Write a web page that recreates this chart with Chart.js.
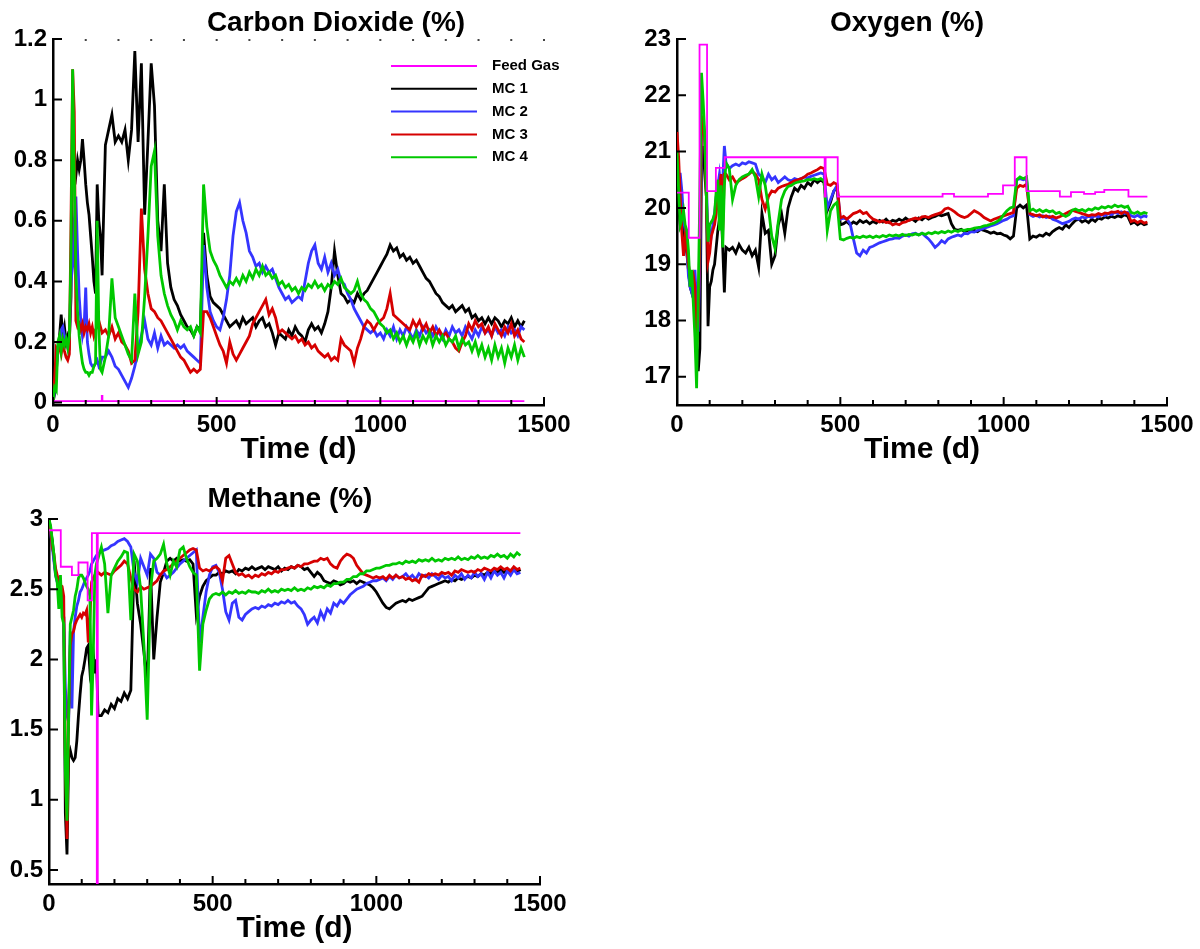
<!DOCTYPE html>
<html>
<head>
<meta charset="utf-8">
<title>Gas composition – Carbon Dioxide, Oxygen, Methane</title>
<script src="https://cdn.jsdelivr.net/npm/chart.js@4.4.1/dist/chart.umd.min.js"></script>
<style>
  html, body { margin: 0; padding: 0; background: #fff; }
  body { position: relative; width: 1200px; height: 949px; overflow: hidden; }
  .panel { position: absolute; }
  #co2Panel { left: 0; top: 0; }
  #o2Panel { left: 600px; top: 0; }
  #ch4Panel { left: 0; top: 470px; }
</style>
</head>
<body>
<div class="panel" id="co2Panel"><canvas id="co2Chart" width="600" height="470"></canvas></div>
<div class="panel" id="o2Panel"><canvas id="o2Chart" width="600" height="470"></canvas></div>
<div class="panel" id="ch4Panel"><canvas id="ch4Chart" width="600" height="479"></canvas></div>
<script>
// Three gas panels. Every MC series shares one
// time grid: 0-150 d every 5 d, then 160-1440 d every 10 d (rows below follow
// that split: 0-150 / 160-500 / 510-1000 / 1010-1440).

const tDays = [
  0, 5, 10, 15, 20, 25, 30, 35, 40, 45, 50, 55, 60, 65, 70, 75, 80, 85, 90, 95, 100, 105, 110, 115, 120, 125, 130, 135, 140, 145, 150,
  160, 170, 180, 190, 200, 210, 220, 230, 240, 250, 260, 270, 280, 290, 300, 310, 320, 330, 340, 350, 360, 370, 380, 390, 400, 410, 420, 430, 440, 450, 460, 470, 480, 490, 500,
  510, 520, 530, 540, 550, 560, 570, 580, 590, 600, 610, 620, 630, 640, 650, 660, 670, 680, 690, 700, 710, 720, 730, 740, 750, 760, 770, 780, 790, 800,
  810, 820, 830, 840, 850, 860, 870, 880, 890, 900, 910, 920, 930, 940, 950, 960, 970, 980, 990, 1000,
  1010, 1020, 1030, 1040, 1050, 1060, 1070, 1080, 1090, 1100, 1110, 1120, 1130, 1140, 1150, 1160, 1170, 1180, 1190, 1200, 1210, 1220,
  1230, 1240, 1250, 1260, 1270, 1280, 1290, 1300, 1310, 1320, 1330, 1340, 1350, 1360, 1370, 1380, 1390, 1400, 1410, 1420, 1430, 1440,
];

const seriesLabels = ["Feed Gas", "MC 1", "MC 2", "MC 3", "MC 4"];

// Axis ticks
const xMajorTicks = [0, 500, 1000, 1500];
const xMinorTicks = [100, 200, 300, 400, 600, 700, 800, 900, 1100, 1200, 1300, 1400];
const co2YTicks = [0, 0.2, 0.4, 0.6, 0.8, 1, 1.2];
const o2YTicks = [17, 18, 19, 20, 21, 22, 23];
const ch4YTicks = [0.5, 1, 1.5, 2, 2.5, 3];

// ── Carbon dioxide (%) ──────────────────────────────────────────────────────
const co2FeedTimes = [0, 149, 151, 1440];
const co2Feed = [0.005, 0.022, 0.005, 0.005];

const co2MC1 = [
  0, 0.03, 0.1, 0.18, 0.22, 0.29, 0.22, 0.25, 0.2, 0.22, 0.2, 0.35, 0.97, 0.78, 0.75, 0.8, 0.77, 0.8, 0.87, 0.8, 0.72, 0.66, 0.62, 0.55, 0.48, 0.4, 0.36, 0.72, 0.6, 0.55, 0.42,
  0.85, 0.9, 0.95, 0.86, 0.88, 0.86, 0.9, 0.8, 0.9, 1.16, 0.86, 1.12, 0.62, 0.86, 1.12, 0.98, 0.6, 0.5, 0.72, 0.46, 0.38, 0.34, 0.32, 0.29, 0.27, 0.25, 0.24, 0.22, 0.25, 0.24, 0.56, 0.42, 0.35, 0.33, 0.32,
  0.31, 0.29, 0.27, 0.25, 0.26, 0.27, 0.25, 0.28, 0.26, 0.27, 0.28, 0.25, 0.27, 0.28, 0.25, 0.26, 0.23, 0.19, 0.23, 0.22, 0.21, 0.24, 0.22, 0.25, 0.23,
  0.22, 0.2, 0.24, 0.26, 0.24, 0.25, 0.23, 0.26, 0.3, 0.38, 0.5, 0.42, 0.36, 0.35, 0.33, 0.34, 0.33, 0.36, 0.34, 0.36, 0.37, 0.39, 0.41, 0.43, 0.45,
  0.47, 0.49, 0.52, 0.5, 0.51, 0.48, 0.49, 0.47, 0.48, 0.46, 0.47, 0.45, 0.43, 0.41, 0.4, 0.38, 0.36, 0.35, 0.33, 0.32, 0.31, 0.32,
  0.3, 0.31, 0.32, 0.3, 0.31, 0.28, 0.29, 0.27, 0.28, 0.26, 0.28, 0.26, 0.28, 0.27, 0.25, 0.27, 0.26, 0.28, 0.25, 0.27, 0.25, 0.27,
];
const co2MC2 = [
  0, 0.04, 0.12, 0.18, 0.2, 0.24, 0.25, 0.22, 0.2, 0.18, 0.22, 0.4, 0.45, 0.6, 0.68, 0.5, 0.35, 0.27, 0.22, 0.25, 0.38, 0.2, 0.16, 0.13, 0.12, 0.12, 0.13, 0.14, 0.12, 0.13, 0.15,
  0.15, 0.17, 0.15, 0.12, 0.11, 0.09, 0.07, 0.05, 0.08, 0.12, 0.17, 0.22, 0.27, 0.21, 0.19, 0.23, 0.18, 0.22, 0.19, 0.2, 0.19, 0.18, 0.19, 0.18, 0.19, 0.17, 0.16, 0.15, 0.14, 0.13, 0.52, 0.38, 0.3, 0.27, 0.25,
  0.24, 0.28, 0.34, 0.42, 0.55, 0.63, 0.66, 0.6, 0.56, 0.5, 0.48, 0.45, 0.46, 0.43, 0.45, 0.43, 0.44, 0.41, 0.38, 0.36, 0.34, 0.35, 0.33, 0.34, 0.35,
  0.34, 0.4, 0.46, 0.5, 0.52, 0.46, 0.44, 0.48, 0.43, 0.46, 0.42, 0.44, 0.4, 0.39, 0.36, 0.34, 0.31, 0.29, 0.27, 0.25, 0.24, 0.23, 0.24, 0.22, 0.23,
  0.21, 0.24, 0.22, 0.25, 0.21, 0.24, 0.22, 0.25, 0.23, 0.21, 0.24, 0.22, 0.25, 0.23, 0.24, 0.22, 0.25, 0.23, 0.21, 0.24, 0.22, 0.25,
  0.23, 0.24, 0.22, 0.25, 0.23, 0.21, 0.24, 0.22, 0.25, 0.23, 0.24, 0.22, 0.25, 0.23, 0.24, 0.22, 0.25, 0.23, 0.24, 0.22, 0.25, 0.24,
];
const co2MC3 = [
  0, 0.08, 0.18, 0.17, 0.18, 0.16, 0.2, 0.17, 0.15, 0.14, 0.16, 0.6, 1.1, 0.96, 0.27, 0.25, 0.26, 0.24, 0.26, 0.23, 0.25, 0.24, 0.26, 0.23, 0.25, 0.22, 0.24, 0.25, 0.27, 0.25, 0.23,
  0.24, 0.22, 0.25, 0.21, 0.23, 0.2, 0.19, 0.17, 0.13, 0.14, 0.3, 0.64, 0.44, 0.36, 0.31, 0.3, 0.28, 0.27, 0.25, 0.23, 0.21, 0.19, 0.17, 0.15, 0.14, 0.12, 0.1, 0.11, 0.1, 0.11, 0.3, 0.3, 0.28, 0.25, 0.22,
  0.19, 0.17, 0.13, 0.2, 0.16, 0.14, 0.16, 0.18, 0.2, 0.22, 0.26, 0.28, 0.3, 0.32, 0.34, 0.29, 0.31, 0.28, 0.23, 0.24, 0.23, 0.22, 0.21, 0.22, 0.2,
  0.21, 0.19, 0.2, 0.18, 0.19, 0.17, 0.16, 0.15, 0.16, 0.14, 0.15, 0.14, 0.21, 0.19, 0.18, 0.17, 0.13, 0.18, 0.21, 0.25, 0.27, 0.26, 0.24, 0.26, 0.27,
  0.28, 0.31, 0.36, 0.29, 0.28, 0.27, 0.26, 0.25, 0.24, 0.27, 0.25, 0.27, 0.24, 0.26, 0.23, 0.25, 0.22, 0.24, 0.22, 0.23, 0.21, 0.2,
  0.18, 0.17, 0.2, 0.22, 0.26, 0.24, 0.27, 0.25, 0.26, 0.23, 0.25, 0.22, 0.26, 0.24, 0.22, 0.25, 0.23, 0.26, 0.22, 0.24, 0.21, 0.2,
];
const co2MC4 = [
  0, 0.05, 0.04, 0.2, 0.22, 0.17, 0.21, 0.19, 0.21, 0.18, 0.22, 0.5, 1.1, 0.75, 0.42, 0.3, 0.22, 0.17, 0.13, 0.11, 0.1, 0.1, 0.09, 0.1, 0.1, 0.12, 0.13, 0.6, 0.25, 0.11, 0.1,
  0.15, 0.22, 0.41, 0.28, 0.25, 0.22, 0.19, 0.16, 0.14, 0.36, 0.16, 0.2, 0.35, 0.55, 0.78, 0.83, 0.55, 0.42, 0.36, 0.32, 0.29, 0.27, 0.24, 0.27, 0.25, 0.24, 0.25, 0.22, 0.25, 0.23, 0.72, 0.58, 0.5, 0.47, 0.45,
  0.42, 0.4, 0.38, 0.4, 0.39, 0.41, 0.39, 0.42, 0.4, 0.43, 0.41, 0.44, 0.42, 0.45, 0.42, 0.43, 0.41, 0.42, 0.39, 0.4, 0.38, 0.39, 0.37, 0.38, 0.36,
  0.38, 0.37, 0.39, 0.38, 0.4, 0.38, 0.39, 0.37, 0.39, 0.38, 0.4, 0.39, 0.41, 0.38, 0.37, 0.36, 0.37, 0.4, 0.36, 0.34, 0.33, 0.31, 0.3, 0.28, 0.26,
  0.25, 0.23, 0.24, 0.21, 0.23, 0.2, 0.22, 0.19, 0.22, 0.2, 0.23, 0.19, 0.22, 0.2, 0.23, 0.19, 0.22, 0.2, 0.22, 0.19, 0.21, 0.2,
  0.22, 0.18, 0.21, 0.19, 0.2, 0.17, 0.2, 0.16, 0.19, 0.15, 0.18, 0.14, 0.19, 0.15, 0.18, 0.13, 0.18, 0.15, 0.19, 0.14, 0.18, 0.15,
];

// ── Oxygen (%) ──────────────────────────────────────────────────────────────
const o2FeedTimes = [0, 36, 69, 92, 119, 146, 452, 455, 492, 813, 848, 952, 998, 1034, 1070, 1172, 1206, 1246, 1280, 1308, 1382, 1440];
const o2Feed = [20.27, 19.47, 22.9, 20.3, 20.71, 20.9, 20.2, 20.9, 20.2, 20.25, 20.2, 20.25, 20.4, 20.9, 20.3, 20.2, 20.28, 20.25, 20.28, 20.32, 20.2, 20.2];

const o2MC1 = [
  20.4, 20.0, 19.7, 19.8, 19.6, 19.4, 19.2, 18.9, 18.6, 18.5, 18.8, 18.3, 17.6, 17.1, 17.5, 20.8, 21.1, 20.6, 20.2, 17.9, 18.6, 18.7, 18.9, 19.0, 19.3, 19.6, 19.8, 20.0, 19.3, 18.5, 19.3,
  19.25, 19.3, 19.2, 19.35, 19.25, 19.2, 19.3, 19.15, 19.25, 18.95, 19.9, 19.55, 19.6, 19.0, 19.15, 19.7, 19.9, 19.55, 20.0, 20.2, 20.35, 20.3, 20.4, 20.35, 20.45, 20.4, 20.5, 20.45, 20.5, 20.45, 19.95, 20.1, 20.3, 20.35, 19.7,
  19.72, 19.76, 19.7, 19.75, 19.72, 19.78, 19.74, 19.77, 19.72, 19.76, 19.73, 19.78, 19.75, 19.8, 19.74, 19.78, 19.76, 19.8, 19.77, 19.82, 19.78, 19.8, 19.76, 19.82, 19.79,
  19.84, 19.8, 19.83, 19.85, 19.88, 19.86, 19.88, 19.9, 19.72, 19.62, 19.6, 19.62, 19.58, 19.6, 19.62, 19.6, 19.58, 19.62, 19.6, 19.58, 19.55, 19.57, 19.54, 19.55, 19.52,
  19.5, 19.45, 19.5, 20.0, 20.05, 20.0, 20.05, 19.45, 19.5, 19.48, 19.52, 19.5, 19.55, 19.52, 19.58, 19.62, 19.65, 19.62, 19.7, 19.65, 19.72, 19.78,
  19.8, 19.75, 19.78, 19.74, 19.8, 19.76, 19.82, 19.8, 19.84, 19.82, 19.85, 19.83, 19.86, 19.84, 19.88, 19.85, 19.72, 19.75, 19.7, 19.74, 19.7, 19.72,
];
const o2MC2 = [
  20.8, 20.6, 20.6, 20.3, 19.8, 19.6, 19.3, 18.8, 18.6, 18.5, 18.7, 18.9, 18.3, 17.8, 19.0, 21.3, 21.5, 21.2, 20.5, 19.4, 19.6, 19.5, 19.7, 19.9, 20.2, 20.4, 20.6, 20.3, 20.5, 21.1, 20.8,
  20.7, 20.75, 20.78, 20.75, 20.8, 20.78, 20.82, 20.8, 20.78, 20.6, 20.55, 20.45, 20.6, 20.5, 20.55, 20.45, 20.5, 20.55, 20.5, 20.48, 20.52, 20.5, 20.52, 20.55, 20.53, 20.56, 20.58, 20.6, 20.62, 20.6, 20.0, 20.15, 20.3, 20.4, 19.8,
  19.82, 19.8, 19.72, 19.45, 19.2, 19.15, 19.25, 19.2, 19.3, 19.32, 19.35, 19.38, 19.4, 19.42, 19.44, 19.45, 19.47, 19.46, 19.5, 19.52, 19.5, 19.54, 19.55, 19.52, 19.55,
  19.5, 19.45, 19.38, 19.3, 19.35, 19.42, 19.38, 19.45, 19.48, 19.5, 19.52, 19.5, 19.55, 19.54, 19.58, 19.57, 19.6, 19.62, 19.64, 19.66, 19.68, 19.7, 19.72, 19.75, 19.78,
  19.8, 19.84, 19.86, 20.5, 20.52, 20.5, 20.52, 19.88, 19.85, 19.87, 19.84, 19.86, 19.83, 19.85, 19.8, 19.78, 19.75, 19.72, 19.74, 19.76, 19.8, 19.82,
  19.8, 19.84, 19.82, 19.85, 19.83, 19.86, 19.84, 19.88, 19.86, 19.9, 19.88, 19.92, 19.9, 19.93, 19.9, 19.92, 19.86, 19.84, 19.87, 19.83, 19.86, 19.84,
];
const o2MC3 = [
  21.35, 20.9, 20.2, 19.55, 19.15, 19.5, 19.3, 19.0, 18.8, 18.7, 18.8, 18.6, 17.5, 18.0, 19.5, 21.5, 21.6, 21.2, 20.2, 19.05, 19.2, 19.5, 19.6, 19.7, 19.9, 20.2, 20.4, 20.6, 19.6, 20.6, 20.6,
  20.5, 20.55, 20.45, 20.48, 20.52, 20.55, 20.6, 20.65, 20.6, 20.5, 20.15, 19.98, 20.2, 20.3, 20.28, 20.35, 20.38, 20.4, 20.42, 20.45, 20.48, 20.5, 20.52, 20.55, 20.6, 20.62, 20.65, 20.68, 20.72, 20.7, 20.42, 20.4, 20.45, 20.42, 19.82,
  19.85, 19.8, 19.85, 19.9, 19.92, 19.95, 19.9, 19.92, 19.85, 19.8, 19.78, 19.75, 19.77, 19.74, 19.75, 19.7, 19.72, 19.7, 19.74, 19.75, 19.78, 19.8, 19.82, 19.8, 19.84,
  19.85, 19.83, 19.86, 19.88, 19.9, 19.92, 19.98, 20.0, 19.97, 19.93, 19.88, 19.85, 19.83, 19.85, 19.9, 19.95, 19.92, 19.88, 19.83, 19.8, 19.77, 19.8, 19.82, 19.84, 19.86,
  19.88, 19.9, 19.92, 20.35, 20.4, 20.38, 20.42, 19.9, 19.88, 19.86, 19.88, 19.84, 19.86, 19.83, 19.85, 19.82, 19.84, 19.87, 19.9, 19.93, 19.96, 19.94,
  19.92, 19.9, 19.88, 19.86, 19.88, 19.87, 19.9, 19.88, 19.91, 19.9, 19.93, 19.92, 19.94, 19.9, 19.93, 19.9, 19.76, 19.78, 19.74, 19.77, 19.73, 19.75,
];
const o2MC4 = [
  21.0, 20.3, 19.7, 19.8, 19.95, 19.7, 19.6, 19.25, 18.6, 18.9, 18.3, 17.7, 16.8, 18.4, 20.3, 22.4, 21.9, 21.3, 20.2, 19.4, 19.7, 19.75, 19.8, 19.9, 20.3, 20.5, 19.6, 20.4, 19.3, 20.4, 20.8,
  20.7, 20.15, 20.4, 20.5, 20.55, 20.58, 20.6, 20.68, 20.55, 20.2, 20.6, 20.4, 20.0, 19.5, 19.28, 19.75, 20.15, 20.3, 20.38, 20.4, 20.44, 20.46, 20.47, 20.48, 20.5, 20.5, 20.52, 20.5, 20.52, 20.48, 19.6, 19.95, 20.05, 20.1, 19.45,
  19.43, 19.46, 19.48, 19.46, 19.49, 19.47, 19.5, 19.48, 19.5, 19.47, 19.5, 19.48, 19.51, 19.49, 19.52, 19.5, 19.52, 19.5, 19.53, 19.51, 19.53, 19.52, 19.54, 19.52, 19.55,
  19.53, 19.56, 19.54, 19.57, 19.55, 19.58, 19.56, 19.59, 19.57, 19.6, 19.58, 19.61, 19.6, 19.62, 19.62, 19.64, 19.65, 19.66, 19.68, 19.69, 19.71, 19.73, 19.76, 19.8, 19.88,
  19.95, 20.0, 20.02, 20.5, 20.55, 20.52, 20.55, 19.95, 19.98, 19.94, 19.97, 19.93, 19.96, 19.93, 19.95, 19.9, 19.92, 19.88, 19.85, 19.88, 19.96, 19.98,
  19.95, 19.97, 19.94, 19.98, 19.96, 20.0, 19.98, 20.02, 20.0, 20.03, 20.01, 20.05, 20.02, 20.04, 20.01, 20.03, 19.92, 19.9, 19.93, 19.89, 19.92, 19.9,
];

// ── Methane (%) ─────────────────────────────────────────────────────────────
const ch4FeedTimes = [0, 36, 70, 90, 118, 131, 146, 149, 1440];
const ch4Feed = [2.92, 2.66, 2.6, 2.69, 2.42, 2.9, 0.3, 2.9, 2.9];

const ch4MC1 = [
  3.0, 2.92, 2.85, 2.72, 2.62, 2.58, 2.55, 2.5, 2.45, 2.3, 0.9, 0.61, 1.3, 1.35, 1.3, 1.28, 1.3, 1.42, 1.6, 1.75, 1.88, 1.93, 2.0, 2.08, 2.1, 1.92, 2.0, 2.05, 1.9, 2.0, 1.6,
  1.6, 1.64, 1.62, 1.68, 1.65, 1.72, 1.7, 1.76, 1.72, 1.78, 2.7, 2.4, 2.25, 2.05, 1.82, 2.65, 2.0, 2.3, 2.55, 2.62, 2.7, 2.72, 2.7, 2.72, 2.7, 2.71, 2.7, 2.71, 2.68, 2.32, 2.45, 2.52, 2.56, 2.58, 2.6,
  2.6, 2.62, 2.61, 2.63, 2.62, 2.63, 2.61, 2.64, 2.63, 2.65, 2.64, 2.66, 2.64, 2.65, 2.66, 2.64, 2.66, 2.65, 2.64, 2.66, 2.63, 2.65, 2.64, 2.66, 2.65,
  2.67, 2.66, 2.64, 2.65, 2.62, 2.59, 2.62, 2.6, 2.56, 2.55, 2.54, 2.56, 2.55, 2.53, 2.54, 2.56, 2.55, 2.56, 2.54, 2.56, 2.55, 2.54, 2.53, 2.51, 2.48,
  2.44, 2.4, 2.37, 2.36, 2.38, 2.4, 2.41, 2.42, 2.41, 2.43, 2.42, 2.43, 2.44, 2.45, 2.48, 2.51, 2.52, 2.53, 2.54, 2.55, 2.56, 2.55,
  2.57, 2.56, 2.58, 2.57, 2.58, 2.59, 2.58, 2.6, 2.59, 2.61, 2.6, 2.62, 2.61, 2.63, 2.62, 2.64, 2.62, 2.64, 2.63, 2.65, 2.62, 2.64,
];
const ch4MC2 = [
  3.0, 2.9, 2.8, 2.7, 2.6, 2.55, 2.52, 2.5, 2.4, 2.3, 1.8, 1.6, 1.55, 2.2, 1.65, 2.2, 2.3, 2.38, 2.42, 2.48, 2.5, 2.53, 2.56, 2.58, 2.6, 2.63, 2.68, 2.7, 2.72, 2.74, 2.75,
  2.77, 2.78, 2.79, 2.81, 2.82, 2.84, 2.85, 2.86, 2.84, 2.8, 2.62, 2.55, 2.72, 2.66, 2.6, 2.75, 2.72, 2.62, 2.6, 2.62, 2.58, 2.6, 2.62, 2.65, 2.68, 2.7, 2.72, 2.74, 2.76, 2.78, 2.12, 2.3, 2.48, 2.6, 2.66,
  2.67, 2.62, 2.5, 2.34, 2.28, 2.4, 2.42, 2.3, 2.28, 2.32, 2.34, 2.36, 2.37, 2.36, 2.38, 2.37, 2.39, 2.38, 2.4, 2.39, 2.41, 2.4, 2.42, 2.4, 2.41,
  2.38, 2.36, 2.32, 2.25, 2.28, 2.3, 2.26, 2.34, 2.29, 2.36, 2.33, 2.4, 2.38, 2.42, 2.4, 2.43, 2.46, 2.48, 2.5, 2.51, 2.52, 2.54, 2.55, 2.56, 2.56,
  2.57, 2.58, 2.56, 2.59, 2.57, 2.6, 2.58, 2.59, 2.61, 2.58, 2.6, 2.57, 2.61, 2.59, 2.6, 2.58, 2.61, 2.59, 2.57, 2.6, 2.58, 2.59,
  2.56, 2.6, 2.58, 2.61, 2.57, 2.6, 2.58, 2.62, 2.59, 2.61, 2.57, 2.62, 2.58, 2.63, 2.6, 2.62, 2.58, 2.63, 2.6, 2.64, 2.61, 2.62,
];
const ch4MC3 = [
  3.0, 2.92, 2.8, 2.75, 2.65, 2.6, 2.55, 2.53, 2.52, 2.45, 1.3, 0.72, 1.6, 2.1, 2.18, 2.2, 2.25, 2.28, 2.3, 2.32, 2.3, 2.33, 2.32, 2.35, 2.12, 2.3, 2.55, 2.58, 2.6, 2.6, 2.62,
  2.6, 2.62, 2.61, 2.6, 2.63, 2.65, 2.67, 2.7, 2.68, 2.58, 2.5, 2.48, 2.52, 2.5, 2.51, 2.52, 2.54, 2.56, 2.6, 2.63, 2.64, 2.66, 2.68, 2.7, 2.72, 2.74, 2.76, 2.78, 2.79, 2.78, 2.65, 2.63, 2.64, 2.63, 2.65,
  2.66, 2.64, 2.56, 2.72, 2.74, 2.68, 2.62, 2.6, 2.61, 2.59, 2.6, 2.58, 2.6, 2.59, 2.61, 2.6, 2.62, 2.61, 2.63, 2.62, 2.64, 2.64, 2.65, 2.66, 2.65,
  2.67, 2.66, 2.68, 2.68, 2.69, 2.7, 2.7, 2.72, 2.71, 2.72, 2.68, 2.66, 2.65, 2.7, 2.73, 2.75, 2.74, 2.72, 2.67, 2.64, 2.61, 2.6, 2.59, 2.58, 2.59,
  2.58, 2.59, 2.57, 2.6, 2.58, 2.6, 2.58, 2.59, 2.57, 2.58, 2.56, 2.57, 2.55, 2.6, 2.59, 2.61, 2.6, 2.61, 2.6, 2.62, 2.61, 2.62,
  2.6, 2.63, 2.62, 2.64, 2.63, 2.62, 2.63, 2.62, 2.64, 2.63, 2.65, 2.64, 2.63, 2.65, 2.64, 2.66, 2.64, 2.65, 2.63, 2.66, 2.64, 2.65,
];
const ch4MC4 = [
  3.0, 2.95, 2.85, 2.75, 2.6, 2.55, 2.36, 2.6, 2.3, 2.25, 1.2, 0.85, 1.6, 2.25, 2.3, 2.35, 2.45, 2.5, 2.58, 2.6, 2.6, 2.58, 2.55, 2.52, 2.5, 2.45, 1.6, 2.0, 2.6, 2.68, 2.72,
  2.8, 2.68, 2.33, 2.6, 2.65, 2.7, 2.73, 2.77, 2.76, 2.28, 2.75, 2.7, 2.5, 2.1, 1.57, 2.5, 2.7, 2.72, 2.75, 2.82, 2.68, 2.6, 2.7, 2.66, 2.78, 2.8, 2.72, 2.66, 2.62, 2.6, 1.92, 2.25, 2.35, 2.43, 2.46,
  2.47, 2.46, 2.48, 2.46, 2.48, 2.47, 2.49, 2.47, 2.48, 2.47, 2.49, 2.48, 2.48, 2.47, 2.49, 2.48, 2.5, 2.48, 2.49, 2.48, 2.5, 2.49, 2.5, 2.49, 2.51,
  2.49, 2.5, 2.49, 2.51, 2.5, 2.52, 2.51, 2.52, 2.51, 2.53, 2.52, 2.54, 2.54, 2.55, 2.55, 2.57, 2.57, 2.59, 2.59, 2.61, 2.61, 2.63, 2.63, 2.64, 2.65,
  2.65, 2.66, 2.67, 2.67, 2.68, 2.68, 2.69, 2.68, 2.7, 2.69, 2.7, 2.69, 2.71, 2.7, 2.71, 2.7, 2.72, 2.7, 2.71, 2.7, 2.72, 2.71,
  2.72, 2.71, 2.73, 2.71, 2.72, 2.71, 2.73, 2.72, 2.74, 2.72, 2.73, 2.72, 2.74, 2.73, 2.75, 2.73, 2.74, 2.72, 2.75, 2.73, 2.76, 2.74,
];

// ── Styling ────────────────────────────────────────────────────────────────
const FONT = '"Liberation Sans", Arial, Helvetica, sans-serif';
const COLORS = {
  feed: "#ff00ff",
  mc1: "#000000",
  mc2: "#3535ff",
  mc3: "#d60000",
  mc4: "#00c800",
};

Chart.defaults.font.family = FONT;
Chart.defaults.color = "#000";

function series(label, times, values, color, width, order, stepped) {
  if (times.length !== values.length) {
    console.warn(`series ${label}: ${times.length} times vs ${values.length} values`);
  }
  return {
    label,
    data: times.map((t, i) => ({ x: t, y: values[i] })),
    borderColor: color,
    backgroundColor: color,
    borderWidth: width,
    order,
    stepped: stepped ? "before" : false,
    pointRadius: 0,
    fill: false,
  };
}

// Feed gas sits on top, then MC 4 over MC 3 over MC 2 over MC 1 (lower order = drawn last).
function gasDatasets(feedTimes, feed, mc1, mc2, mc3, mc4) {
  return [
    series(seriesLabels[0], feedTimes, feed, COLORS.feed, 1.8, 0, true),
    series(seriesLabels[1], tDays, mc1, COLORS.mc1, 2.8, 4),
    series(seriesLabels[2], tDays, mc2, COLORS.mc2, 2.8, 3),
    series(seriesLabels[3], tDays, mc3, COLORS.mc3, 2.8, 2),
    series(seriesLabels[4], tDays, mc4, COLORS.mc4, 2.8, 1),
  ];
}

// Panel heading drawn at a fixed spot: the original figure does not centre it on the plot.
const panelTitle = {
  id: "panelTitle",
  afterDraw(chart, _args, opts) {
    if (!opts.text) return;
    const { ctx } = chart;
    ctx.save();
    ctx.font = `bold ${opts.size}px ${FONT}`;
    ctx.fillStyle = "#000";
    ctx.textAlign = "center";
    ctx.textBaseline = "alphabetic";
    ctx.fillText(opts.text, opts.x, opts.y);
    ctx.restore();
  },
};

// Line-sample legend, in dataset order, tucked inside the CO2 plot.
const lineLegend = {
  id: "lineLegend",
  afterDraw(chart, _args, opts) {
    if (!opts.show) return;
    const { ctx } = chart;
    ctx.save();
    ctx.font = `bold ${opts.size}px ${FONT}`;
    ctx.textAlign = "left";
    ctx.textBaseline = "middle";
    chart.data.datasets.forEach((ds, i) => {
      const y = opts.top + i * opts.rowGap;
      ctx.strokeStyle = ds.borderColor;
      ctx.lineWidth = Math.min(ds.borderWidth, 2);
      ctx.beginPath();
      ctx.moveTo(opts.lineStart, y);
      ctx.lineTo(opts.lineEnd, y);
      ctx.stroke();
      ctx.fillStyle = "#000";
      ctx.fillText(ds.label, opts.textStart, y);
    });
    ctx.restore();
  },
};

// Tick marks point into the plot (Tecplot style); Chart.js only draws them outward.
const axisTicks = {
  id: "axisTicks",
  afterDatasetsDraw(chart, _args, opts) {
    const { ctx, chartArea, scales } = chart;
    const { x, y } = scales;
    ctx.save();
    ctx.strokeStyle = "#000";
    ctx.lineWidth = 2;
    ctx.beginPath();
    for (const t of xMajorTicks) {
      const px = x.getPixelForValue(t);
      ctx.moveTo(px, chartArea.bottom);
      ctx.lineTo(px, chartArea.bottom - 8);
    }
    for (const t of xMinorTicks) {
      const px = x.getPixelForValue(t);
      ctx.moveTo(px, chartArea.bottom);
      ctx.lineTo(px, chartArea.bottom - 5);
    }
    for (const tick of y.ticks) {
      const py = y.getPixelForValue(tick.value);
      ctx.moveTo(chartArea.left, py);
      ctx.lineTo(chartArea.left + 9, py);
    }
    ctx.stroke();
    if (opts.top) {
      ctx.fillStyle = "#444";
      for (const t of xMinorTicks.concat(xMajorTicks.slice(1))) {
        const px = x.getPixelForValue(t);
        ctx.fillRect(px - 1, chartArea.top, 2, 2);
      }
    }
    ctx.restore();
  },
};

function buildPanel(canvasId, spec) {
  const canvas = document.getElementById(canvasId);
  if (!canvas) return null;
  return new Chart(canvas.getContext("2d"), {
    type: "line",
    data: { datasets: spec.datasets },
    options: {
      responsive: false,
      animation: false,
      events: [],
      layout: { padding: spec.padding },
      plugins: {
        legend: { display: false },
        tooltip: { enabled: false },
        panelTitle: spec.title,
        lineLegend: spec.legend || { show: false },
        axisTicks: { top: !!spec.topTicks },
      },
      scales: {
        x: {
          type: "linear",
          min: 0,
          max: 1500,
          afterBuildTicks: (scale) => { scale.ticks = xMajorTicks.map((value) => ({ value })); },
          afterFit: (scale) => { scale.height = spec.xAxisHeight; },
          grid: { display: false, drawTicks: false },
          border: { display: true, color: "#000", width: 2.5 },
          ticks: {
            autoSkip: false,
            maxRotation: 0,
            padding: 6,
            color: "#000",
            font: { size: 24, weight: "bold" },
            callback: (v) => String(v),
          },
          title: {
            display: true,
            text: "Time (d)",
            color: "#000",
            font: { size: 30, weight: "bold" },
            padding: { top: 0, bottom: 2 },
          },
        },
        y: {
          type: "linear",
          min: spec.yMin,
          max: spec.yMax,
          afterBuildTicks: (scale) => { scale.ticks = spec.yTicks.map((value) => ({ value })); },
          afterFit: (scale) => { scale.width = spec.yAxisWidth; },
          grid: { display: false, drawTicks: false },
          border: { display: true, color: "#000", width: 2.5 },
          ticks: {
            autoSkip: false,
            padding: 6,
            color: "#000",
            font: { size: 24, weight: "bold" },
            callback: (v) => String(v),
          },
        },
      },
    },
    plugins: [panelTitle, lineLegend, axisTicks],
  });
}

function init() {
  buildPanel("co2Chart", {
    datasets: gasDatasets(co2FeedTimes, co2Feed, co2MC1, co2MC2, co2MC3, co2MC4),
    padding: { top: 39, right: 56, bottom: 0, left: 0 },
    yAxisWidth: 53,
    xAxisHeight: 65,
    yMin: -0.008,
    yMax: 1.2,
    yTicks: co2YTicks,
    topTicks: true,
    title: { text: "Carbon Dioxide (%)", size: 28, x: 336, y: 31 },
    legend: { show: true, size: 15, top: 66, rowGap: 22.8, lineStart: 391, lineEnd: 477, textStart: 492 },
  });

  buildPanel("o2Chart", {
    datasets: gasDatasets(o2FeedTimes, o2Feed, o2MC1, o2MC2, o2MC3, o2MC4),
    padding: { top: 39, right: 33, bottom: 0, left: 0 },
    yAxisWidth: 77,
    xAxisHeight: 65,
    yMin: 16.5,
    yMax: 23,
    yTicks: o2YTicks,
    title: { text: "Oxygen (%)", size: 28, x: 307, y: 31 },
  });

  buildPanel("ch4Chart", {
    datasets: gasDatasets(ch4FeedTimes, ch4Feed, ch4MC1, ch4MC2, ch4MC3, ch4MC4),
    padding: { top: 49, right: 60, bottom: 0, left: 0 },
    yAxisWidth: 49,
    xAxisHeight: 65,
    yMin: 0.4,
    yMax: 3,
    yTicks: ch4YTicks,
    title: { text: "Methane (%)", size: 28, x: 290, y: 37 },
  });
}

if (document.readyState === "loading") {
  document.addEventListener("DOMContentLoaded", init, { once: true });
} else {
  init();
}
</script>
</body>
</html>
